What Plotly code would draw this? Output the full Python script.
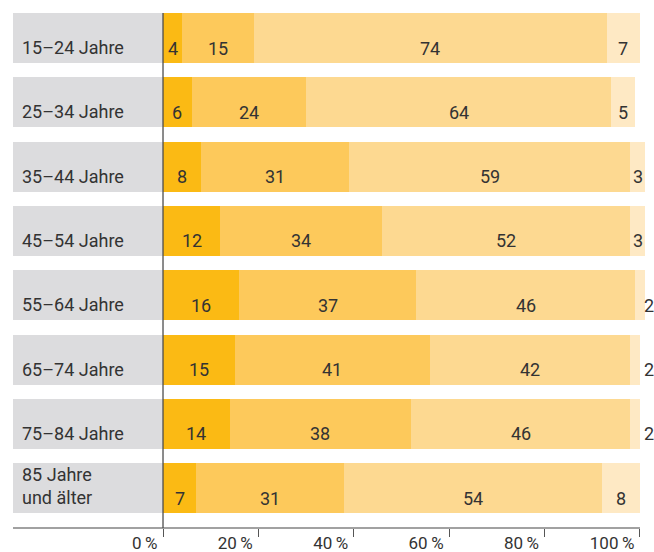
import plotly.graph_objects as go

# Age groups and share (%) in each of four response classes
age_groups = ["15–24 Jahre", "25–34 Jahre", "35–44 Jahre", "45–54 Jahre",
              "55–64 Jahre", "65–74 Jahre", "75–84 Jahre", "85 Jahre<br>und älter"]
seg_1 = [4, 6, 8, 12, 16, 15, 14, 7]
seg_2 = [15, 24, 31, 34, 37, 41, 38, 31]
seg_3 = [74, 64, 59, 52, 46, 42, 46, 54]
seg_4 = [7, 5, 3, 3, 2, 2, 2, 8]
series = [seg_1, seg_2, seg_3, seg_4]
colors = ["#FBBA14", "#FDC95B", "#FDD991", "#FEE9C4"]

tick_vals = [0, 20, 40, 60, 80, 100]
tick_text = ["0\u2009%", "20\u2009%", "40\u2009%", "60\u2009%", "80\u2009%", "100\u2009%"]

PANEL = 31.45          # width of the grey label strip, in axis units
X_MAX = 102.94         # right edge of the plotting area
BAR_W = 0.778
FONT = "Roboto"
TXT = "#333333"
FS = 18

fig = go.Figure()

# grey strip behind the row labels
fig.add_trace(go.Bar(
    y=age_groups, x=[PANEL] * len(age_groups), base=[-PANEL] * len(age_groups),
    orientation="h", marker=dict(color="#DCDCDE", line_width=0),
    width=BAR_W, hoverinfo="skip", showlegend=False))

# stacked segments
for vals, col in zip(series, colors):
    fig.add_trace(go.Bar(
        y=age_groups, x=vals, orientation="h",
        marker=dict(color=col, line_width=0), width=BAR_W,
        hoverinfo="skip", showlegend=False))

annotations = []
for i, cat in enumerate(age_groups):
    # row label
    annotations.append(dict(
        x=-PANEL, y=cat, xref="x", yref="y", text=cat, showarrow=False,
        xanchor="left", yanchor="bottom", xshift=7, yshift=-22, align="left",
        font=dict(family=FONT, size=FS, color=TXT)))
    left = 0
    for k, vals in enumerate(series):
        v = vals[i]
        if k == 3 and v <= 2:
            # too narrow to hold its label: write it just past the 100 % end
            annotations.append(dict(
                x=100, y=cat, text=str(v), showarrow=False,
                xanchor="center", xshift=9, yshift=-10,
                font=dict(family=FONT, size=FS, color=TXT)))
        else:
            annotations.append(dict(
                x=left + v / 2, y=cat, text=str(v), showarrow=False,
                xanchor="center", yshift=-10,
                font=dict(family=FONT, size=FS, color=TXT)))
        left += v

fig.update_layout(
    barmode="stack",
    width=654, height=552,
    margin=dict(l=13, r=0, t=0, b=24),
    paper_bgcolor="white", plot_bgcolor="white",
    annotations=annotations,
    shapes=[
        # zero line
        dict(type="line", xref="x", yref="y", x0=0, x1=0,
             y0=-BAR_W / 2, y1=7.62, line=dict(color="#4D4D4D", width=1.3)),
        # baseline of the value axis
        dict(type="line", xref="x", yref="paper", x0=-PANEL, x1=100,
             y0=0, y1=0, line=dict(color="#444444", width=1.2)),
    ],
    xaxis=dict(range=[-PANEL, X_MAX], showgrid=False, zeroline=False,
               showline=False,
               tickvals=tick_vals, ticktext=tick_text, ticks="outside",
               ticklen=8, tickcolor="#555555", tickwidth=1.2,
               ticklabelposition="outside left", ticklabelshift=-5,
               tickfont=dict(family=FONT, size=FS - 1, color=TXT)),
    yaxis=dict(categoryorder="array", categoryarray=age_groups,
               range=[7.62, -0.591], showgrid=False, zeroline=False,
               showticklabels=False, showline=False),
)

fig.write_html("out.html")
